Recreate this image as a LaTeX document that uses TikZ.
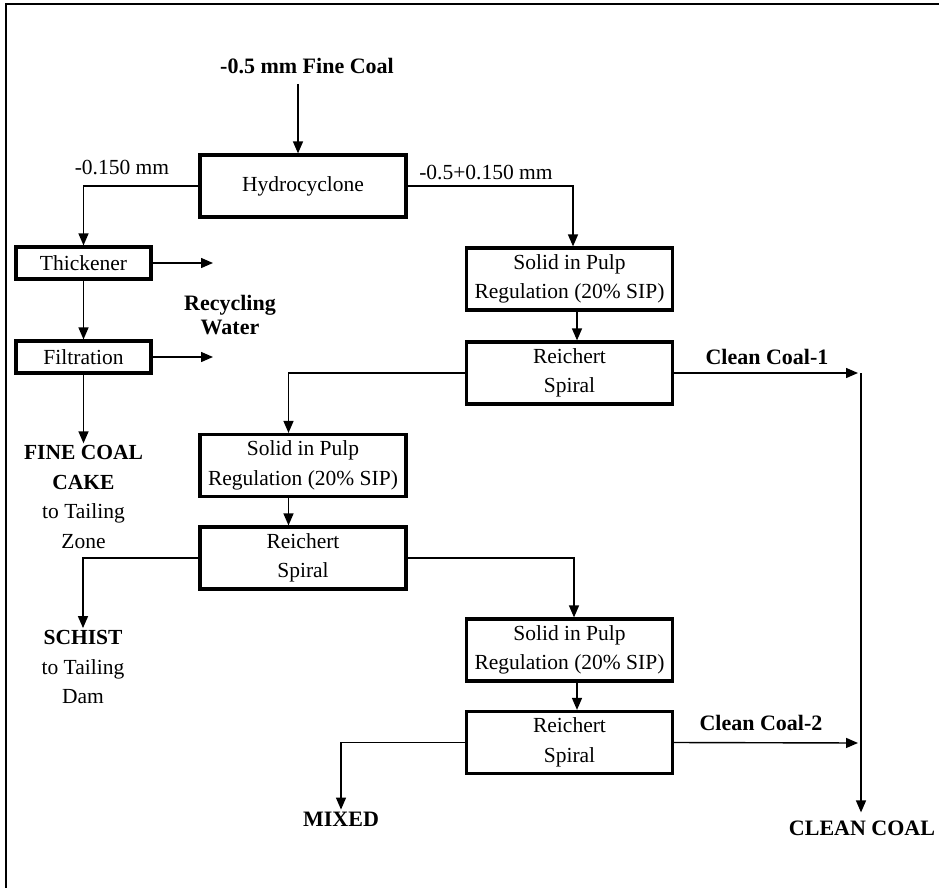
\documentclass[tikz,border=0pt]{standalone}
\usepackage{fontspec}
\setmainfont{Liberation Serif}
\usetikzlibrary{arrows.meta}
\tikzset{
  flow/.style={
    line width=1.4pt,
    -{Triangle[length=12pt,width=10pt]}
  },
  unit/.style={
    draw,
    line width=3.2pt,
    minimum width=206pt,
    minimum height=62pt,
    inner sep=0pt,
    align=center
  },
  smallunit/.style={unit, minimum width=135pt, minimum height=32pt},
  txt/.style={align=center, inner sep=2pt},
  btxt/.style={txt, font=\bfseries\fontsize{22}{29.5}\selectfont}
}

\begin{document}
\begin{tikzpicture}[x=1pt, y=-1pt, every node/.style={font=\fontsize{21.5}{29.5}\selectfont}]
\useasboundingbox (0,0) rectangle (939,888);
\newcommand\XColA{303}
\newcommand\XColB{569.5}
\draw[line width=2.2pt] (6,890) -- (6,4) -- (941,4);

\node[btxt] (Feed) at (307,66) {-0.5 mm Fine Coal};
\node[unit] (Hyd) at (\XColA,186) {Hydrocyclone};
\node[txt] (Fine) at (122,168) {-0.150 mm};
\node[txt] (Coarse) at (486,173) {-0.5+0.150 mm};
\node[smallunit] (Thk) at (83.5,263) {Thickener};
\node[smallunit] (Flt) at (83.5,357) {Filtration};
\node[btxt, font=\bfseries\fontsize{22}{24}\selectfont] (Rcy) at (230,315) {Recycling\\Water};
\node[txt] (Cake) at (83.5,497) {\textbf{FINE COAL}\\\textbf{CAKE}\\to Tailing\\Zone};
\node[unit] (Sip1) at (\XColB,279) {Solid in Pulp\\Regulation (20\% SIP)};
\node[unit] (Rs1) at (\XColB,373) {Reichert\\Spiral};
\node[unit] (Sip2) at (\XColA,465.5) {Solid in Pulp\\Regulation (20\% SIP)};
\node[unit] (Rs2) at (\XColA,558) {Reichert\\Spiral};
\node[txt] (Schist) at (83,667) {\textbf{SCHIST}\\to Tailing\\Dam};
\node[unit] (Sip3) at (\XColB,650) {Solid in Pulp\\Regulation (20\% SIP)};
\node[unit] (Rs3) at (\XColB,742.5) {Reichert\\Spiral};
\node[btxt] (Cc1) at (767,357) {Clean Coal-1};
\node[btxt] (Cc2) at (761,723) {Clean Coal-2};
\node[btxt] (Mixed) at (341,819) {MIXED};
\node[btxt] (Clean) at (862,828) {CLEAN COAL};

\coordinate (Rw1) at (213,263);
\coordinate (Rw2) at (213,357);
\coordinate (J1) at (861,373);
\coordinate (J2) at (861,743);

\draw[flow] ([xshift=-9pt,yshift=-8pt]Feed.south) -- ([xshift=-5pt]Hyd.north);
\draw[flow] (Hyd.west) -| (Thk.north);
\draw[flow] (Hyd.east) -| ([xshift=3.5pt]Sip1.north);
\draw[flow] (Thk.east) -- (Rw1);
\draw[flow] (Flt.east) -- (Rw2);
\draw[flow] (Thk.south) -- (Flt.north);
\draw[flow] (Flt.south) -- (Flt.south |- Cake.north);
\draw[flow] ([xshift=7.5pt]Sip1.south) -- ([xshift=7.5pt]Rs1.north);
\draw[flow, shorten >=3pt] (Rs1.east) -- (J1);
\draw[flow, shorten >=6pt] (J1) -- (J1 |- Clean.north);
\draw[flow] (Rs1.west) -| ([xshift=-14.5pt]Sip2.north);
\draw[flow] ([xshift=-14.5pt]Sip2.south) -- ([xshift=-14.5pt]Rs2.north);
\draw[flow] (Rs2.west) -| (Schist.north);
\draw[flow] (Rs2.east) -| ([xshift=4.5pt]Sip3.north);
\draw[flow] ([xshift=7.5pt]Sip3.south) -- ([xshift=7.5pt]Rs3.north);
\draw[flow, shorten >=3pt] (Rs3.east) -- (J2);
\draw[flow] (Rs3.west) -| (Mixed.north);
\end{tikzpicture}
\end{document}
